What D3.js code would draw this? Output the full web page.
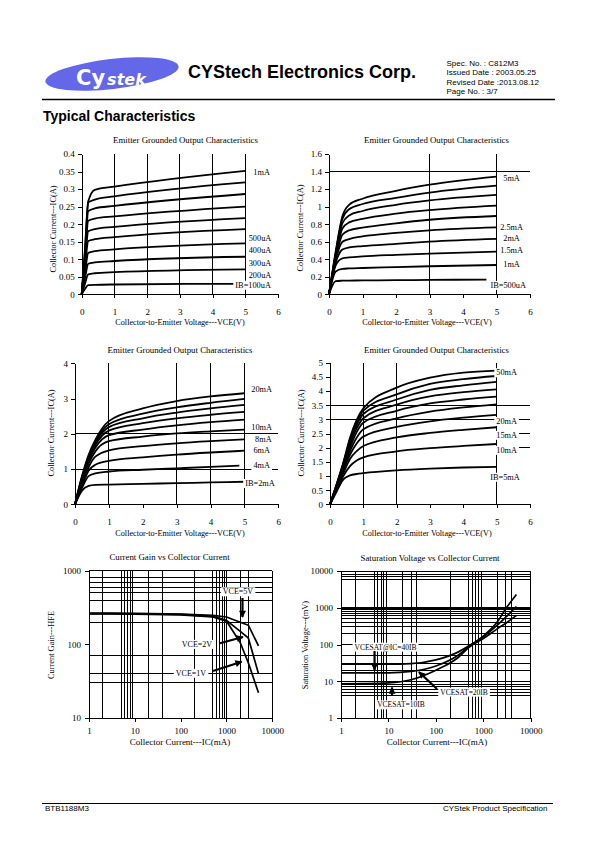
<!DOCTYPE html>
<html><head><meta charset="utf-8">
<script src="https://cdn.jsdelivr.net/npm/d3@7"></script>
<style>
body{margin:0;background:#fff;}
svg{display:block;}
</style></head><body>
<script>
// ================= DATA =================
// Chart A: Emitter grounded output, IB = 100uA .. 1mA
const aVCE = [0, 0.1, 0.2, 0.4, 1, 5];
const aEndVCE = [4.65, 5, 5, 5, 5, 5, 5, 5, 5, 5];
const aIB = ["100uA","200uA","300uA","400uA","500uA","600uA","700uA","800uA","900uA","1mA"];
const aIC = [
  [0, 0.015, 0.026, 0.027, 0.028, 0.030],
  [0, 0.030, 0.057, 0.060, 0.063, 0.071],
  [0, 0.045, 0.087, 0.091, 0.095, 0.107],
  [0, 0.060, 0.118, 0.123, 0.128, 0.145],
  [0, 0.075, 0.152, 0.157, 0.163, 0.186],
  [0, 0.090, 0.180, 0.186, 0.192, 0.217],
  [0, 0.100, 0.210, 0.216, 0.222, 0.250],
  [0, 0.110, 0.237, 0.245, 0.252, 0.286],
  [0, 0.120, 0.262, 0.270, 0.279, 0.319],
  [0, 0.130, 0.265, 0.298, 0.307, 0.352]
];
const aYTicks = [0, 0.05, 0.1, 0.15, 0.2, 0.25, 0.3, 0.35, 0.4];
const aLabels = ["1mA","500uA","400uA","300uA","200uA","IB=100uA"];
const aLabelVCE = [5.5, 5.45, 5.45, 5.45, 5.45, 5.24];
const aLabelIC = [0.349, 0.160, 0.126, 0.088, 0.055, 0.027];

// Chart B: IB = 500uA .. 5mA
const bVCE = [0, 0.2, 0.4, 0.6, 1, 2, 3, 5];
const bEndVCE = [4.7, 5, 5, 5, 5, 5, 5, 5, 5, 5];
const bIB = ["500uA","1mA","1.5mA","2mA","2.5mA","3mA","3.5mA","4mA","4.5mA","5mA"];
const bIC = [
  [0, 0.15, 0.155, 0.157, 0.158, 0.161, 0.164, 0.168],
  [0, 0.26, 0.29, 0.295, 0.30, 0.31, 0.32, 0.334],
  [0, 0.33, 0.41, 0.42, 0.432, 0.45, 0.465, 0.487],
  [0, 0.36, 0.51, 0.535, 0.55, 0.575, 0.60, 0.631],
  [0, 0.39, 0.60, 0.63, 0.66, 0.70, 0.73, 0.764],
  [0, 0.41, 0.68, 0.73, 0.76, 0.81, 0.85, 0.893],
  [0, 0.43, 0.75, 0.82, 0.86, 0.92, 0.96, 1.011],
  [0, 0.45, 0.81, 0.90, 0.95, 1.02, 1.07, 1.133],
  [0, 0.47, 0.86, 0.97, 1.03, 1.10, 1.16, 1.239],
  [0, 0.49, 0.89, 1.02, 1.09, 1.18, 1.25, 1.342]
];
const bYTicks = [0, 0.2, 0.4, 0.6, 0.8, 1, 1.2, 1.4, 1.6];
const bLabels = ["5mA","2.5mA","2mA","1.5mA","1mA","IB=500uA"];
const bLabelVCE = [5.45, 5.45, 5.45, 5.45, 5.45, 5.35];
const bLabelIC = [1.33, 0.77, 0.64, 0.505, 0.342, 0.106];

// Chart C: IB = 2mA .. 20mA
const cVCE = [0, 0.2, 0.4, 0.6, 1, 2, 3, 4, 5];
const cEndVCE = [5, 4.85, 5, 5, 5, 5, 5, 5, 5, 5];
const cIB = ["2mA","4mA","6mA","8mA","10mA","12mA","14mA","16mA","18mA","20mA"];
const cIC = [
  [0, 0.38, 0.52, 0.55, 0.56, 0.58, 0.60, 0.62, 0.64],
  [0, 0.45, 0.80, 0.88, 0.93, 0.98, 1.02, 1.06, 1.10],
  [0, 0.50, 0.95, 1.12, 1.23, 1.33, 1.41, 1.47, 1.52],
  [0, 0.55, 1.05, 1.35, 1.53, 1.65, 1.73, 1.79, 1.84],
  [0, 0.60, 1.15, 1.50, 1.79, 1.92, 2.01, 2.07, 2.12],
  [0, 0.65, 1.22, 1.60, 1.96, 2.12, 2.24, 2.33, 2.40],
  [0, 0.70, 1.28, 1.68, 2.09, 2.30, 2.44, 2.54, 2.62],
  [0, 0.72, 1.32, 1.74, 2.19, 2.44, 2.60, 2.72, 2.82],
  [0, 0.75, 1.36, 1.78, 2.27, 2.57, 2.75, 2.88, 2.99],
  [0, 0.78, 1.40, 1.83, 2.36, 2.72, 2.93, 3.06, 3.15]
];
const cYTicks = [0, 1, 2, 3, 4];
const cLabels = ["20mA","10mA","8mA","6mA","4mA","IB=2mA"];
const cLabelVCE = [5.51, 5.51, 5.56, 5.51, 5.51, 5.46];
const cLabelIC = [3.26, 2.18, 1.85, 1.54, 1.11, 0.60];

// Chart D: IB = 5mA .. 50mA
const dVCE = [0, 0.2, 0.4, 0.6, 0.8, 1, 2, 3, 4, 5];
const dEndVCE = [5, 5, 5, 5, 5, 5, 5, 5, 5, 5];
const dIB = ["5mA","10mA","15mA","20mA","25mA","30mA","35mA","40mA","45mA","50mA"];
const dIC = [
  [0, 0.45, 0.88, 1.02, 1.07, 1.10, 1.20, 1.26, 1.30, 1.32],
  [0, 0.50, 1.00, 1.35, 1.55, 1.66, 1.87, 1.98, 2.06, 2.13],
  [0, 0.55, 1.10, 1.60, 1.88, 2.06, 2.36, 2.52, 2.63, 2.72],
  [0, 0.60, 1.20, 1.75, 2.15, 2.39, 2.73, 2.93, 3.06, 3.16],
  [0, 0.62, 1.28, 1.88, 2.35, 2.65, 3.03, 3.27, 3.42, 3.53],
  [0, 0.65, 1.34, 2.00, 2.55, 2.88, 3.30, 3.56, 3.70, 3.80],
  [0, 0.67, 1.38, 2.10, 2.68, 3.04, 3.52, 3.81, 3.96, 4.06],
  [0, 0.69, 1.42, 2.20, 2.80, 3.19, 3.70, 4.04, 4.20, 4.32],
  [0, 0.70, 1.45, 2.28, 2.90, 3.31, 3.88, 4.25, 4.42, 4.53],
  [0, 0.72, 1.48, 2.35, 2.98, 3.39, 4.12, 4.47, 4.65, 4.72]
];
const dYTicks = [0, 0.5, 1, 1.5, 2, 2.5, 3, 3.5, 4, 4.5, 5];
const dLabels = ["50mA","20mA","15mA","10mA","IB=5mA"];
const dLabelVCE = [5.3, 5.3, 5.3, 5.3, 5.25];
const dLabelIC = [4.66, 2.94, 2.45, 1.92, 0.97];

const vceTicks = [0, 1, 2, 3, 4, 5, 6];

// Chart E: Current gain vs collector current
const eIC = [1, 3, 10, 100, 500, 1000, 2000, 3000, 5000];
const eHFE5V = [265, 265, 263, 258, 248, 235, 200, 182, 95];
const eHFE2V = [262, 262, 260, 255, 240, 212, 150, 122, 40];
const eHFE1V = [259, 259, 257, 252, 235, 207, 105, 56, 22];
const eLabels = ["VCE=5V","VCE=2V","VCE=1V"];
const eLabelIC = [1782, 227, 168];
const eLabelHFE = [522, 101, 40.8];
const eArrowFrom = [[2235, 426], [687, 102.7], [508, 43.5]];
const eArrowTo = [[2235, 235], [2291, 126], [2148, 58]];
const eXTicks = [1, 10, 100, 1000, 10000];
const eYTicks = [10, 100, 1000];

// Chart F: Saturation voltage vs collector current
const fIC = [1, 3, 10, 30, 100, 300, 500, 1000, 2000, 3000, 5000];
const fV40 = [29, 29, 29, 30, 38, 63, 92, 170, 420, 950, 2300];
const fV20 = [17, 17, 17, 18.5, 26, 52, 88, 160, 340, 560, 1080];
const fV10 = [8.5, 8.6, 9, 11, 20, 45, 84, 145, 270, 380, 620];
const fLabels = ["VCESAT@IC=40IB","VCESAT=20IB","VCESAT=10IB"];
const fLabelIC = [8.7, 394, 18.4];
const fLabelV = [85.5, 5.1, 2.3];
const fArrowFrom = [[5.1, 66.5], [106, 6.15], [11.9, 4.1]];
const fArrowTo = [[5.1, 20.2], [43.9, 17.9], [11.9, 6.76]];
const fXTicks = [1, 10, 100, 1000, 10000];
const fYTicks = [1, 10, 100, 1000, 10000];

// ================= DRAWING =================
const SERIF = "'Liberation Serif','Times New Roman',serif";
const SANS = "'Liberation Sans',Arial,sans-serif";
const W = 595, H = 842;
const svg = d3.select("body").append("svg").attr("width", W).attr("height", H);
svg.append("rect").attr("width", W).attr("height", H).attr("fill", "#fff");
const defs = svg.append("defs");
defs.append("marker").attr("id", "ah").attr("viewBox", "0 0 10 10")
  .attr("refX", 9).attr("refY", 5).attr("markerWidth", 8).attr("markerHeight", 7)
  .attr("markerUnits", "userSpaceOnUse").attr("orient", "auto")
  .append("path").attr("d", "M0,0L10,5L0,10z").attr("fill", "#000");

function label(g, txt, x, y, size, bg) {
  const t = g.append("text").attr("x", x).attr("y", y).attr("text-anchor", "middle")
    .attr("dy", "0.35em").attr("font-size", size).attr("font-family", SERIF).text(txt);
  if (bg) {
    const b = t.node().getBBox();
    g.insert("rect", () => t.node()).attr("x", b.x - 2).attr("y", b.y).attr("width", b.width + 4)
      .attr("height", b.height).attr("fill", "#fff");
  }
}

function titles(g, o) {
  g.append("text").attr("x", o.titleX).attr("y", o.titleY).attr("text-anchor", "middle").attr("dy", "0.35em")
    .attr("font-size", 8.8).attr("font-family", SERIF).text(o.title);
  g.append("text").attr("x", o.xLabelX).attr("y", o.xLabelY).attr("text-anchor", "middle").attr("dy", "0.35em")
    .attr("font-size", o.xLabelSize || 8.2).attr("font-family", SERIF).text(o.xLabel);
  g.append("text").attr("transform", `translate(${o.yLabelX},${o.yLabelY}) rotate(-90)`)
    .attr("text-anchor", "middle").attr("dy", "0.35em").attr("font-size", 8.4).attr("font-family", SERIF).text(o.yLabel);
}

function styleAxis(a) {
  a.attr("font-size", 9).attr("font-family", SERIF);
  a.selectAll("line,path").attr("shape-rendering", "crispEdges");
}

function outputChart(o) {
  const g = svg.append("g");
  const x = d3.scaleLinear().domain([0, 6]).range([o.left, o.right]);
  const y = d3.scaleLinear().domain([0, o.ymax]).range([o.bottom, o.top]);
  const gl = g.append("g").attr("stroke", "#000").attr("stroke-width", 1).attr("shape-rendering", "crispEdges");
  o.vGrid.forEach(v => gl.append("line").attr("x1", x(v)).attr("x2", x(v)).attr("y1", y(0)).attr("y2", y(o.ymax)));
  o.hGrid.forEach(h => gl.append("line").attr("x1", x(h[1])).attr("x2", x(h[2])).attr("y1", y(h[0])).attr("y2", y(h[0])));
  const line = d3.line().x(d => x(d[0])).y(d => y(d[1])).curve(d3.curveMonotoneX);
  o.ic.forEach((vals, i) => {
    const pts = vals.map((v, j) => [j === vals.length - 1 ? o.end[i] : o.vce[j], v]);
    g.append("path").attr("d", line(pts)).attr("fill", "none").attr("stroke", "#000")
      .attr("stroke-width", 1.8).attr("stroke-linejoin", "round").attr("data-ib", o.ib[i]);
  });
  o.labels.forEach((t, i) => label(g, t, x(o.labelX[i]), y(o.labelY[i]), 8.3, true));
  styleAxis(g.append("g").attr("transform", `translate(0,${o.bottom})`)
    .call(d3.axisBottom(x).tickValues(vceTicks).tickFormat(d => String(d)).tickSize(4).tickSizeOuter(0).tickPadding(10)));
  styleAxis(g.append("g").attr("transform", `translate(${o.left},0)`)
    .call(d3.axisLeft(y).tickValues(o.yTicks).tickFormat(d => String(d)).tickSize(4).tickSizeOuter(0).tickPadding(3)));
  titles(g, o);
}

function logChart(o) {
  const g = svg.append("g");
  const x = d3.scaleLog().domain([1, 10000]).range([o.left, o.right]);
  const y = d3.scaleLog().domain(o.yDomain).range([o.bottom, o.top]);
  const gl = g.append("g").attr("stroke", "#000").attr("stroke-width", 1).attr("shape-rendering", "crispEdges");
  o.vGrid.forEach(v => gl.append("line").attr("x1", x(v)).attr("x2", x(v)).attr("y1", y(o.yDomain[0])).attr("y2", y(o.yDomain[1])));
  o.hGrid.forEach(h => gl.append("line").attr("x1", x(1)).attr("x2", x(10000)).attr("y1", y(h)).attr("y2", y(h))
    .attr("stroke-width", (o.thick || []).includes(h) ? 2 : 1));
  const line = d3.line().x(d => x(d[0])).y(d => y(d[1])).curve(o.curve);
  o.series.forEach(s => {
    g.append("path").attr("d", line(o.xs.map((v, j) => [v, s[j]]))).attr("fill", "none")
      .attr("stroke", "#000").attr("stroke-width", 1.7).attr("stroke-linejoin", "round");
  });
  o.labels.forEach((t, i) => label(g, t, x(o.labelX[i]), y(o.labelY[i]), o.labelSize, true));
  o.arrowFrom.forEach((p, i) => {
    const q = o.arrowTo[i];
    g.append("line").attr("x1", x(p[0])).attr("y1", y(p[1])).attr("x2", x(q[0])).attr("y2", y(q[1]))
      .attr("stroke", "#000").attr("stroke-width", 2.2).attr("marker-end", "url(#ah)");
  });
  styleAxis(g.append("g").attr("transform", `translate(0,${o.bottom})`)
    .call(d3.axisBottom(x).tickValues(o.xTicks).tickFormat(d => String(d)).tickSize(4).tickSizeOuter(0).tickPadding(6)));
  styleAxis(g.append("g").attr("transform", `translate(${o.left},0)`)
    .call(d3.axisLeft(y).tickValues(o.yTicks).tickFormat(d => String(d)).tickSize(4).tickSizeOuter(0).tickPadding(4)));
  titles(g, o);
}

// ---- Header ----
const hdr = svg.append("g");
hdr.append("ellipse").attr("cx", 112).attr("cy", 74).attr("rx", 67).attr("ry", 15)
  .attr("transform", "rotate(-6.5 112 74)").attr("fill", "#6567e9");
const logo = hdr.append("text").attr("x", 76).attr("y", 84.5).attr("fill", "#fff")
  .attr("font-family", "'DejaVu Sans',sans-serif").attr("font-weight", "bold");
logo.append("tspan").attr("font-size", 21).text("Cy");
logo.append("tspan").attr("font-size", 16).attr("font-style", "italic").attr("dx", 2).text("stek");
hdr.append("text").attr("x", 188).attr("y", 78).attr("font-family", SANS).attr("font-weight", "bold")
  .attr("font-size", 18).text("CYStech Electronics Corp.");
const specLines = ["Spec. No. : C812M3", "Issued Date : 2003.05.25", "Revised Date :2013.08.12", "Page No. : 3/7"];
const specY = [65.5, 75, 84.5, 94];
specLines.forEach((t, i) => hdr.append("text").attr("x", 446.5).attr("y", specY[i])
  .attr("font-family", SANS).attr("font-size", 8).text(t));
hdr.append("line").attr("x1", 42).attr("x2", 555).attr("y1", 99.5).attr("y2", 99.5)
  .attr("stroke", "#000").attr("stroke-width", 1.3);
hdr.append("text").attr("x", 43).attr("y", 121).attr("font-family", SANS).attr("font-weight", "bold")
  .attr("font-size", 14).text("Typical Characteristics");

// ---- Charts ----
const outTitle = "Emitter Grounded Output Characteristics";
const outX = "Collector-to-Emitter Voltage---VCE(V)";
const outY = "Collector Current---IC(A)";

outputChart({left: 81.7, right: 278, top: 154, bottom: 294.3, ymax: 0.4,
  vce: aVCE, end: aEndVCE, ib: aIB, ic: aIC, yTicks: aYTicks,
  vGrid: [1, 2, 3, 4, 5], hGrid: [],
  labels: aLabels, labelX: aLabelVCE, labelY: aLabelIC,
  title: outTitle, titleX: 185.5, titleY: 140, xLabel: outX, xLabelX: 180, xLabelY: 322,
  yLabel: outY, yLabelX: 53.5, yLabelY: 229});

outputChart({left: 329, right: 530, top: 154, bottom: 294.3, ymax: 1.6,
  vce: bVCE, end: bEndVCE, ib: bIB, ic: bIC, yTicks: bYTicks,
  vGrid: [3, 5], hGrid: [[1.4, 0, 6]],
  labels: bLabels, labelX: bLabelVCE, labelY: bLabelIC,
  title: outTitle, titleX: 436.5, titleY: 140, xLabel: outX, xLabelX: 427, xLabelY: 322,
  yLabel: outY, yLabelX: 300, yLabelY: 228});

outputChart({left: 75, right: 278.3, top: 363.3, bottom: 504.3, ymax: 4,
  vce: cVCE, end: cEndVCE, ib: cIB, ic: cIC, yTicks: cYTicks,
  vGrid: [1, 3, 4, 5], hGrid: [[1, 0, 6], [2, 0, 6]],
  labels: cLabels, labelX: cLabelVCE, labelY: cLabelIC,
  title: outTitle, titleX: 180, titleY: 350, xLabel: outX, xLabelX: 180, xLabelY: 533,
  yLabel: outY, yLabelX: 51.5, yLabelY: 433});

outputChart({left: 330, right: 530, top: 362.7, bottom: 504.3, ymax: 5,
  vce: dVCE, end: dEndVCE, ib: dIB, ic: dIC, yTicks: dYTicks,
  vGrid: [1, 2, 5], hGrid: [[3.5, 0, 6], [3, 0, 6], [2.5, 5, 6], [2, 5, 6]],
  labels: dLabels, labelX: dLabelVCE, labelY: dLabelIC,
  title: outTitle, titleX: 436.5, titleY: 350, xLabel: outX, xLabelX: 427, xLabelY: 533,
  yLabel: outY, yLabelX: 301.5, yLabelY: 433});

logChart({left: 89, right: 272.3, top: 570.7, bottom: 718, yDomain: [10, 1000],
  vGrid: [2, 5, 6, 7, 8, 9, 20, 40, 200, 500, 600, 700, 800, 900, 1000, 2000, 3000, 10000],
  hGrid: [30, 40, 70, 200, 400, 500, 600, 700, 800, 1000],
  xs: eIC, series: [eHFE5V, eHFE2V, eHFE1V], curve: d3.curveLinear,
  labels: eLabels, labelX: eLabelIC, labelY: eLabelHFE, labelSize: 8,
  arrowFrom: eArrowFrom, arrowTo: eArrowTo, xTicks: eXTicks, yTicks: eYTicks,
  title: "Current Gain vs Collector Current", titleX: 169.5, titleY: 556.5,
  xLabel: "Collector Current---IC(mA)", xLabelX: 180, xLabelY: 742, xLabelSize: 9,
  yLabel: "Current Gain---HFE", yLabelX: 51, yLabelY: 645});

logChart({left: 341, right: 530.7, top: 571, bottom: 718, yDomain: [1, 10000],
  vGrid: [2, 5, 6, 7, 8, 9, 20, 30, 40, 200, 500, 600, 700, 800, 900, 2000, 3000, 4000, 10000],
  hGrid: [4, 5, 6, 7, 8, 10, 20, 30, 50, 100, 200, 300, 400, 500, 600, 700, 800, 900, 1000, 6000, 7000, 8000, 10000],
  thick: [1000],
  xs: fIC, series: [fV40, fV20, fV10], curve: d3.curveMonotoneX,
  labels: fLabels, labelX: fLabelIC, labelY: fLabelV, labelSize: 7.5,
  arrowFrom: fArrowFrom, arrowTo: fArrowTo, xTicks: fXTicks, yTicks: fYTicks,
  title: "Saturation Voltage vs Collector Current", titleX: 430, titleY: 558,
  xLabel: "Collector Current---IC(mA)", xLabelX: 437, xLabelY: 742, xLabelSize: 9,
  yLabel: "Saturation Voltage---(mV)", yLabelX: 305, yLabelY: 645});

// ---- Footer ----
svg.append("line").attr("x1", 42).attr("x2", 553).attr("y1", 803.5).attr("y2", 803.5)
  .attr("stroke", "#000").attr("stroke-width", 1);
svg.append("text").attr("x", 45).attr("y", 810.5).attr("font-family", SANS).attr("font-size", 8).text("BTB1188M3");
svg.append("text").attr("x", 547.5).attr("y", 810.5).attr("text-anchor", "end").attr("font-family", SANS)
  .attr("font-size", 8).text("CYStek Product Specification");
</script></body></html>
